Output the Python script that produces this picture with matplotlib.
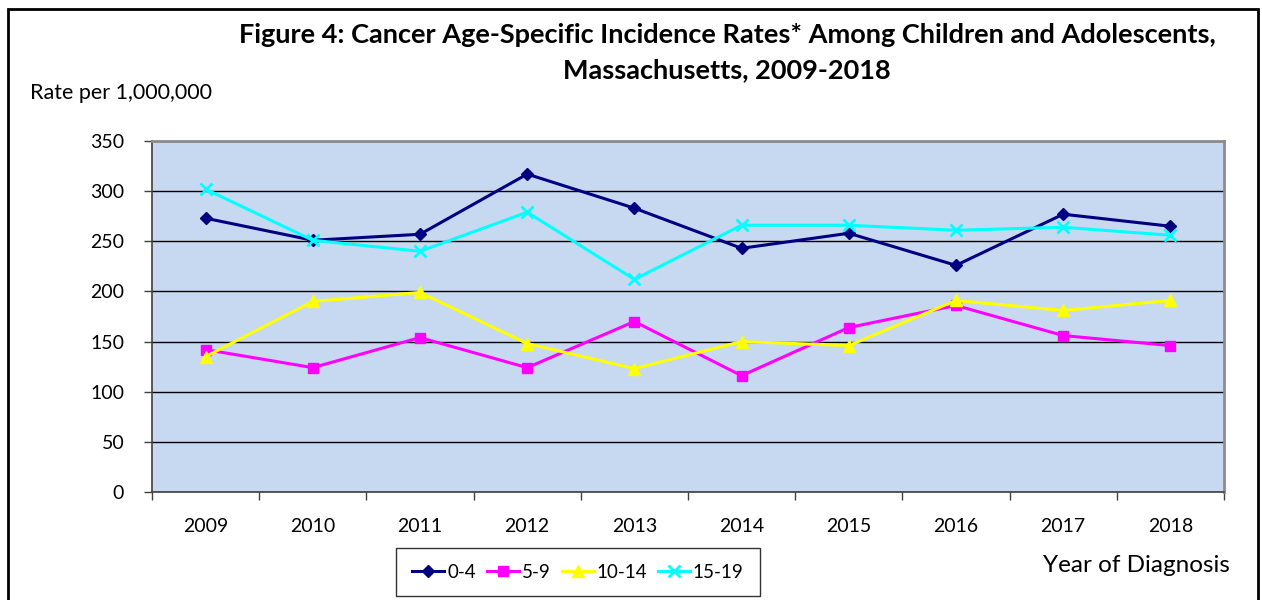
import matplotlib
matplotlib.use("Agg")
import matplotlib.pyplot as plt
import numpy as np
from matplotlib.patches import Rectangle

plt.rcParams['font.family'] = ['Lato', 'DejaVu Sans']

years = ['2009', '2010', '2011', '2012', '2013', '2014', '2015', '2016', '2017', '2018']
age_0_4 = [273, 251, 257, 317, 283, 243, 258, 226, 277, 265]
age_5_9 = [142, 124, 154, 124, 170, 116, 164, 186, 156, 146]
age_10_14 = [135, 190, 199, 148, 123, 150, 146, 191, 181, 191]
age_15_19 = [302, 251, 240, 279, 212, 266, 266, 261, 264, 256]
series_labels = ['0-4', '5-9', '10-14', '15-19']
y_ticks = [0, 50, 100, 150, 200, 250, 300, 350]

fig = plt.figure(figsize=(12.62, 6.0), dpi=100)
ax = fig.add_axes([152 / 1262, 1 - 492 / 600, (1224 - 152) / 1262, (492 - 141) / 600])
ax.set_facecolor('#C6D9F0')

x = np.arange(len(years))
ax.plot(x, age_0_4, color='#000080', lw=2.2, marker='D', ms=6, label=series_labels[0], zorder=3)
ax.plot(x, age_5_9, color='#FF00FF', lw=2.2, marker='s', ms=7.5, label=series_labels[1], zorder=3)
ax.plot(x, age_10_14, color='#FFFF00', lw=2.2, marker='^', ms=8, label=series_labels[2], zorder=3)
ax.plot(x, age_15_19, color='#00FFFF', lw=2.2, marker='x', ms=9, mew=2, label=series_labels[3], zorder=3)

ax.set_xlim(-0.5, len(years) - 0.5)
ax.set_ylim(0, 350)
ax.set_yticks(y_ticks)
ax.set_yticklabels([str(v) for v in y_ticks], fontsize=14)
ax.yaxis.grid(True, color='black', lw=1)
ax.set_axisbelow(True)

ax.set_xticks(x)
ax.set_xticklabels(years, fontsize=14)
ax.set_xticks(np.arange(len(years) + 1) - 0.5, minor=True)
ax.tick_params(axis='x', which='major', length=0, pad=19)
ax.tick_params(axis='x', which='minor', length=6, width=1, color='#404040')
ax.tick_params(axis='y', length=6, width=1, color='#404040', pad=14)

for side in ['top', 'right']:
    ax.spines[side].set_color('#8C8C8C')
    ax.spines[side].set_linewidth(2)
ax.spines['left'].set_color('#404040')
ax.spines['bottom'].set_color('#404040')
ax.spines['left'].set_linewidth(1.2)
ax.spines['bottom'].set_linewidth(1.2)

fig.text(727 / 1262, 1 - 35 / 600, 'Figure 4: Cancer Age-Specific Incidence Rates* Among Children and Adolescents,',
         ha='center', va='center', fontsize=19.5, fontweight='bold')
fig.text(727 / 1262, 1 - 70 / 600, 'Massachusetts, 2009-2018',
         ha='center', va='center', fontsize=19.5, fontweight='bold')
fig.text(30 / 1262, 1 - 93 / 600, 'Rate per 1,000,000', ha='left', va='center', fontsize=15.5)
fig.text(1230 / 1262, 1 - 565 / 600, 'Year of Diagnosis', ha='right', va='center', fontsize=17.5)

leg = fig.legend(loc='center', bbox_to_anchor=(578 / 1262, 1 - 572 / 600), ncol=4,
                 fontsize=13.5, frameon=True, fancybox=False, edgecolor='black',
                 handlelength=1.7, columnspacing=0.6, handletextpad=0.15, borderpad=0.85)
leg.get_frame().set_linewidth(1)

fig.patches.append(Rectangle((8 / 1262, -0.01), (1258 - 8) / 1262, 1 - 9 / 600 + 0.01,
                             transform=fig.transFigure, fill=False, edgecolor='black', lw=2))

fig.savefig('out.png', dpi=100)
